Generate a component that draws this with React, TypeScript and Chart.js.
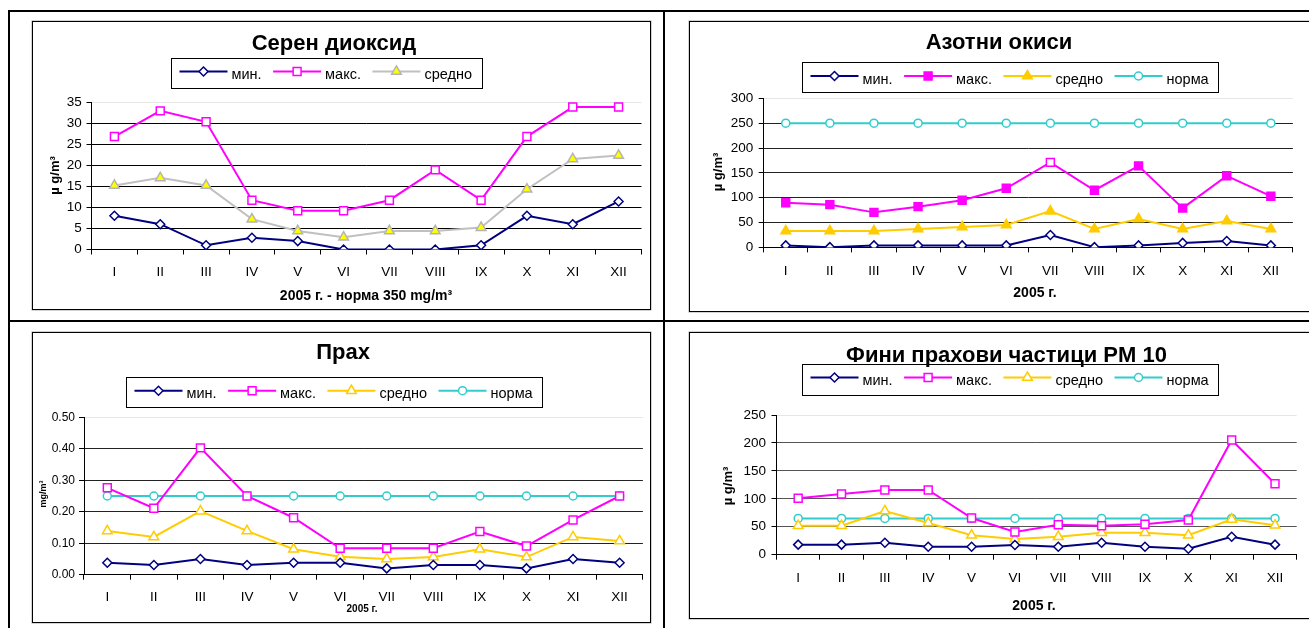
import React, { useEffect, useRef } from 'react';
import { Chart, registerables } from 'chart.js';

Chart.register(...registerables);

const FONT = '"Liberation Sans", Arial, Helvetica, sans-serif';
Chart.defaults.font.family = FONT;

// ---------- data ----------
const months = ['I', 'II', 'III', 'IV', 'V', 'VI', 'VII', 'VIII', 'IX', 'X', 'XI', 'XII'];
const seriesNames = ['мин.', 'макс.', 'средно', 'норма'];

const so2Min = [8, 6, 1, 2.8, 2, 0, 0, 0, 1, 8, 6, 11.4];
const so2Max = [26.8, 32.9, 30.3, 11.7, 9.2, 9.2, 11.7, 18.9, 11.7, 26.8, 33.8, 33.8];
const so2Avg = [15.2, 17, 15.2, 7.2, 4.4, 2.9, 4.4, 4.4, 5.2, 14.3, 21.5, 22.3];
const so2Ticks = [0, 5, 10, 15, 20, 25, 30, 35];

const noxMin = [4, 0.5, 4, 4, 4, 4, 25, 0.5, 4, 9, 13, 4];
const noxMax = [90, 86, 70.5, 82, 95, 119, 171, 115, 164, 79, 144, 103];
const noxAvg = [33, 33, 33, 37, 41, 45, 73, 37, 57, 37, 53, 37];
const noxNorm = [250, 250, 250, 250, 250, 250, 250, 250, 250, 250, 250, 250];
const noxTicks = [0, 50, 100, 150, 200, 250, 300];

const dustMin = [0.038, 0.031, 0.05, 0.031, 0.038, 0.038, 0.02, 0.031, 0.031, 0.02, 0.05, 0.038];
const dustMax = [0.276, 0.211, 0.403, 0.25, 0.181, 0.084, 0.084, 0.084, 0.137, 0.091, 0.174, 0.25];
const dustAvg = [0.139, 0.12, 0.202, 0.139, 0.081, 0.057, 0.05, 0.056, 0.081, 0.056, 0.12, 0.107];
const dustNorm = [0.25, 0.25, 0.25, 0.25, 0.25, 0.25, 0.25, 0.25, 0.25, 0.25, 0.25, 0.25];
const dustTicks = [0, 0.1, 0.2, 0.3, 0.4, 0.5];

const pm10Min = [18, 18, 21.5, 14.3, 14.3, 17.4, 14.3, 21.5, 14.3, 10.7, 32.2, 18];
const pm10Max = [101, 108.6, 115.8, 115.8, 65.7, 40.6, 53.7, 51.9, 54.4, 62.1, 205.3, 127];
const pm10Avg = [52, 52, 78.2, 56.7, 34.7, 28, 32.2, 39.4, 39.4, 34.7, 63.3, 52.6];
const pm10Norm = [65, 65, 65, 65, 65, 65, 65, 65, 65, 65, 65, 65];
const pm10Ticks = [0, 50, 100, 150, 200, 250];

// ---------- styles ----------
const NAVY = '#000080';
const MAGENTA = '#FF00FF';
const GOLD = '#FFCC00';
const TURQ = '#33CCCC';
const SILVER = '#C0C0C0';

type Series = {
  label: string;
  data: number[];
  color: string;
  marker: string;
  r: number;
  fill: string;
  pointBorder?: string;
  hollowAt?: number;
};

type Panel = {
  id: string;
  box: { x: number; y: number; w: number; h: number };
  area: { l: number; r: number; t: number; b: number };
  title: string;
  titleX: number;
  titleY: number;
  legend: { cx: number; top: number; h: number };
  xTitle: string;
  xTitleX: number;
  xTitleY: number;
  xTitleSize: number;
  yTitle: string;
  yTitleX: number;
  yTitleY: number;
  yTitleSize: number;
  yTicks: number[];
  yFmt: (v: number) => string;
  yFont: number;
  yPad: number;
  xPad: number;
  gridColor: string;
  series: Series[];
};

const minS = (data: number[]): Series => ({ label: seriesNames[0], data, color: NAVY, marker: 'rectRot', r: 4.5, fill: '#fff' });
const maxS = (data: number[], fill = '#fff', hollowAt?: number): Series => ({ label: seriesNames[1], data, color: MAGENTA, marker: 'rect', r: 5.6, fill, hollowAt });
const avgS = (data: number[], color: string, fill: string, pointBorder?: string): Series => ({ label: seriesNames[2], data, color, marker: 'triangle', r: 5.6, fill, pointBorder });
const normS = (data: number[]): Series => ({ label: seriesNames[3], data, color: TURQ, marker: 'circle', r: 4, fill: '#fff' });

const intFmt = (v: number) => String(v);
const dec2Fmt = (v: number) => v.toFixed(2);

const panels: Panel[] = [
  {
    id: 'so2',
    box: { x: 32, y: 21, w: 619, h: 289 },
    area: { l: 91.5, r: 641.5, t: 102, b: 249.5 },
    title: 'Серен диоксид', titleX: 334, titleY: 49.5,
    legend: { cx: 326.5, top: 57.5, h: 30 },
    xTitle: '2005 г. - норма 350 mg/m³', xTitleX: 366, xTitleY: 300, xTitleSize: 14,
    yTitle: 'µ g/m³', yTitleX: 55, yTitleY: 175.5, yTitleSize: 13,
    yTicks: so2Ticks, yFmt: intFmt, yFont: 13.5, yPad: 4.8, xPad: 9.9, gridColor: '#000',
    series: [minS(so2Min), maxS(so2Max), avgS(so2Avg, SILVER, '#FFFF00', '#B4B4B4')],
  },
  {
    id: 'nox',
    box: { x: 689, y: 21, w: 624, h: 291 },
    area: { l: 763.7, r: 1292.9, t: 98.3, b: 247.4 },
    title: 'Азотни окиси', titleX: 999, titleY: 48.5,
    legend: { cx: 1010.5, top: 62, h: 29.5 },
    xTitle: '2005 г.', xTitleX: 1035, xTitleY: 296.5, xTitleSize: 14,
    yTitle: 'µ g/m³', yTitleX: 718, yTitleY: 172, yTitleSize: 13,
    yTicks: noxTicks, yFmt: intFmt, yFont: 13.5, yPad: 5.4, xPad: 11.2, gridColor: '#222',
    series: [minS(noxMin), maxS(noxMax, MAGENTA, 6), avgS(noxAvg, GOLD, GOLD), normS(noxNorm)],
  },
  {
    id: 'dust',
    box: { x: 32, y: 332, w: 619, h: 291 },
    area: { l: 84, r: 644.6, t: 417.3, b: 574.7 },
    title: 'Прах', titleX: 343, titleY: 359,
    legend: { cx: 334, top: 376.7, h: 30 },
    xTitle: '2005 г.', xTitleX: 362, xTitleY: 611.5, xTitleSize: 10,
    yTitle: 'mg/m³', yTitleX: 43.5, yTitleY: 494, yTitleSize: 9,
    yTicks: dustTicks, yFmt: dec2Fmt, yFont: 12, yPad: 4, xPad: 9.2, gridColor: '#222',
    series: [minS(dustMin), maxS(dustMax), avgS(dustAvg, GOLD, '#fff'), normS(dustNorm)],
  },
  {
    id: 'pm10',
    box: { x: 689, y: 332, w: 624, h: 287 },
    area: { l: 776.5, r: 1296.7, t: 415, b: 554.7 },
    title: 'Фини прахови частици PM 10', titleX: 1006.5, titleY: 361.5,
    legend: { cx: 1010, top: 363.5, h: 31 },
    xTitle: '2005 г.', xTitleX: 1034, xTitleY: 610, xTitleSize: 14,
    yTitle: 'µ g/m³', yTitleX: 728, yTitleY: 486, yTitleSize: 13,
    yTicks: pm10Ticks, yFmt: intFmt, yFont: 13.5, yPad: 5.5, xPad: 10.9, gridColor: '#555',
    series: [minS(pm10Min), maxS(pm10Max), avgS(pm10Avg, GOLD, '#fff'), normS(pm10Norm)],
  },
];

// ---------- drawing helpers ----------
function drawMarker(ctx: CanvasRenderingContext2D, style: string, x: number, y: number, r: number, fill: string, stroke: string, lw: number) {
  ctx.beginPath();
  if (style === 'circle') {
    ctx.arc(x, y, r, 0, Math.PI * 2);
  } else if (style === 'rect') {
    const s = Math.SQRT1_2 * r;
    ctx.rect(x - s, y - s, 2 * s, 2 * s);
  } else if (style === 'rectRot') {
    ctx.moveTo(x - r, y);
    ctx.lineTo(x, y - r);
    ctx.lineTo(x + r, y);
    ctx.lineTo(x, y + r);
    ctx.closePath();
  } else if (style === 'triangle') {
    let a = 0;
    ctx.moveTo(x + Math.sin(a) * r, y - Math.cos(a) * r);
    a += (2 * Math.PI) / 3;
    ctx.lineTo(x + Math.sin(a) * r, y - Math.cos(a) * r);
    a += (2 * Math.PI) / 3;
    ctx.lineTo(x + Math.sin(a) * r, y - Math.cos(a) * r);
    ctx.closePath();
  }
  ctx.fillStyle = fill;
  ctx.fill();
  ctx.lineWidth = lw;
  ctx.strokeStyle = stroke;
  ctx.stroke();
}

function decorPlugin(p: Panel, ox: number, oy: number) {
  return {
    id: 'decor_' + p.id,
    afterDraw(chart: any) {
      const ctx: CanvasRenderingContext2D = chart.ctx;
      ctx.save();
      ctx.translate(-ox, -oy);
      ctx.fillStyle = '#000';

      // title
      ctx.font = `bold 22px ${FONT}`;
      ctx.textAlign = 'center';
      ctx.textBaseline = 'alphabetic';
      ctx.fillText(p.title, p.titleX, p.titleY);

      // legend
      const LINE = 48, GAP = 4, SEP = 11.5, PADL = 8, PADR = 10;
      ctx.font = `14.5px ${FONT}`;
      const widths = p.series.map((s) => ctx.measureText(s.label).width);
      const total = PADL + PADR + widths.reduce((a, w) => a + LINE + GAP + w, 0) + SEP * (p.series.length - 1);
      const bx = Math.round(p.legend.cx - total / 2) + 0.5;
      const by = Math.round(p.legend.top) + 0.5;
      ctx.lineWidth = 1;
      ctx.strokeStyle = '#000';
      ctx.strokeRect(bx, by, Math.round(total), Math.round(p.legend.h));
      let x = bx + PADL;
      const ly = p.legend.top + 14;
      const ty = p.legend.top + 21.5;
      p.series.forEach((s, i) => {
        ctx.beginPath();
        ctx.moveTo(x, ly);
        ctx.lineTo(x + LINE, ly);
        ctx.lineWidth = 2;
        ctx.strokeStyle = s.color;
        ctx.stroke();
        drawMarker(ctx, s.marker, x + LINE / 2, ly, s.r, s.fill, s.pointBorder || s.color, 1.5);
        ctx.fillStyle = '#000';
        ctx.textAlign = 'left';
        ctx.textBaseline = 'alphabetic';
        ctx.font = `14.5px ${FONT}`;
        ctx.fillText(s.label, x + LINE + GAP, ty);
        x += LINE + GAP + widths[i] + SEP;
      });

      // x axis title
      ctx.fillStyle = '#000';
      ctx.font = `bold ${p.xTitleSize}px ${FONT}`;
      ctx.textAlign = 'center';
      ctx.textBaseline = 'alphabetic';
      ctx.fillText(p.xTitle, p.xTitleX, p.xTitleY);

      // y axis title
      ctx.save();
      ctx.translate(p.yTitleX, p.yTitleY);
      ctx.rotate(-Math.PI / 2);
      ctx.font = `bold ${p.yTitleSize}px ${FONT}`;
      ctx.textAlign = 'center';
      ctx.textBaseline = 'middle';
      ctx.fillText(p.yTitle, 0, 0);
      ctx.restore();

      ctx.restore();
    },
  };
}

function PanelChart({ p }: { p: Panel }) {
  const ref = useRef<HTMLCanvasElement>(null);
  const cw = p.box.w - 2;
  const ch = p.box.h - 2;

  useEffect(() => {
    const ox = p.box.x + 1;
    const oy = p.box.y + 1;
    const left = p.area.l - ox;
    const right = p.area.r - ox;
    const top = p.area.t - oy;
    const bottom = p.area.b - oy;
    const yMax = p.yTicks[p.yTicks.length - 1];

    const chart = new Chart(ref.current as HTMLCanvasElement, {
      type: 'line',
      data: {
        labels: months,
        datasets: p.series.map((s) => ({
          label: s.label,
          data: s.data,
          borderColor: s.color,
          backgroundColor: s.fill,
          borderWidth: 2,
          tension: 0,
          fill: false,
          pointStyle: s.marker as any,
          pointRadius: s.r,
          pointHoverRadius: s.r,
          pointBorderWidth: 1.5,
          pointBorderColor: s.pointBorder || s.color,
          pointBackgroundColor: (c: any) => (s.hollowAt !== undefined && c.dataIndex === s.hollowAt ? '#fff' : s.fill),
        })),
      },
      options: {
        responsive: false,
        animation: false,
        events: [],
        layout: { padding: { top, left: 0, right: cw - right, bottom: 0 } },
        plugins: {
          legend: { display: false },
          title: { display: false },
          tooltip: { enabled: false },
        },
        scales: {
          x: {
            type: 'category',
            offset: true,
            grid: { offset: true, drawOnChartArea: false, drawTicks: true, tickLength: 5, color: '#000', lineWidth: 1 },
            border: { display: true, color: '#000', width: 1 },
            ticks: { color: '#000', font: { size: 13.5 }, padding: p.xPad, maxRotation: 0, autoSkip: false },
            afterFit: (s: any) => {
              s.height = ch - bottom;
            },
          },
          y: {
            type: 'linear',
            min: p.yTicks[0],
            max: yMax,
            afterBuildTicks: (s: any) => {
              s.ticks = p.yTicks.map((v) => ({ value: v }));
            },
            grid: {
              color: (c: any) => (c.tick && Math.abs(c.tick.value - yMax) < 1e-9 ? '#e6e6e6' : p.gridColor),
              tickColor: '#000',
              tickLength: 5,
              lineWidth: 1,
              drawTicks: true,
            },
            border: { display: true, color: '#000', width: 1 },
            ticks: {
              color: '#000',
              font: { size: p.yFont },
              padding: p.yPad,
              callback: (v: any) => p.yFmt(Number(v)),
            },
            afterFit: (s: any) => {
              s.width = left;
            },
          },
        },
      } as any,
      plugins: [decorPlugin(p, ox, oy)],
    });
    return () => chart.destroy();
  }, [p]);

  return <canvas ref={ref} width={cw} height={ch} style={{ display: 'block', width: cw, height: ch }} />;
}

export default function App() {
  const line = (l: number, t: number, w: number, h: number, key: string) => (
    <div key={key} style={{ position: 'absolute', left: l, top: t, width: w, height: h, background: '#000' }} />
  );
  return (
    <div style={{ position: 'fixed', left: 0, top: 0, width: 1309, height: 628, background: '#fff', overflow: 'hidden' }}>
      {line(8, 10, 1310, 2, 'top')}
      {line(8, 10, 2, 630, 'left')}
      {line(663, 10, 2, 630, 'mid')}
      {line(8, 320, 1310, 2, 'hmid')}
      {panels.map((p) => (
        <div
          key={p.id}
          style={{
            position: 'absolute',
            left: p.box.x,
            top: p.box.y,
            width: p.box.w,
            height: p.box.h,
            boxSizing: 'border-box',
            border: '1px solid #000',
            boxShadow: '0 0 0 0.5px rgba(0,0,0,0.35)',
            background: '#fff',
          }}
        >
          <PanelChart p={p} />
        </div>
      ))}
    </div>
  );
}
